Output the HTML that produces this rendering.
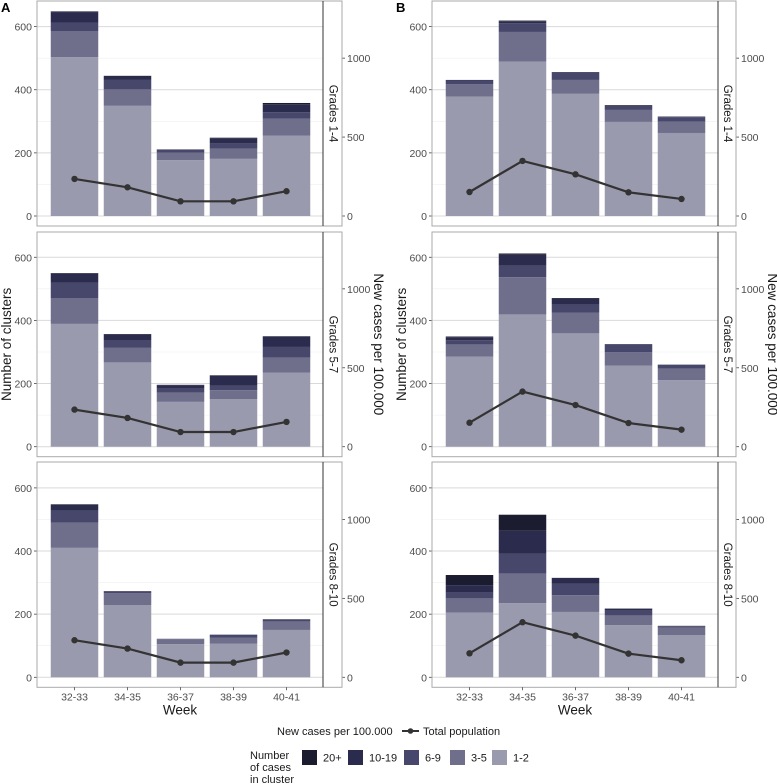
<!DOCTYPE html>
<html><head><meta charset="utf-8"><style>
body{margin:0;background:#fff;}
svg{display:block;font-family:"Liberation Sans",sans-serif;}
</style></head><body>
<svg id="chart" width="777" height="784" viewBox="0 0 777 784" xmlns="http://www.w3.org/2000/svg"></svg>
<script>
const weeks = ["32-33","34-35","36-37","38-39","40-41"];
const grades = ["Grades 1-4","Grades 5-7","Grades 8-10"];
const bandLabels = ["1-2","3-5","6-9","10-19","20+"];
const bandColors = ["#9a9aae","#6f6f8c","#47476b","#2b2b4d","#1c1c30"];
// counts per band [1-2,3-5,6-9,10-19,20+] per week
const panelA_g14 = [[503,83,27,33,2],[349,52,30,11,2],[177,24,8,1,1],[181,32,17,16,2],[255,53,21,25,4]];
const panelA_g57 = [[389,82,48,29,2],[267,46,25,18,1],[142,29,15,9,1],[151,28,15,30,2],[235,47,34,32,2]];
const panelA_g810 = [[410,80,38,18,2],[229,37,6,1,0],[105,16,1,0,0],[107,18,9,1,0],[150,27,5,2,0]];
const panelB_g14 = [[378,40,11,2,0],[489,94,28,6,2],[387,44,23,2,0],[298,38,10,4,1],[263,36,14,2,0]];
const panelB_g57 = [[285,39,13,10,2],[419,118,36,35,4],[359,66,25,19,2],[257,42,25,1,0],[211,36,12,1,0]];
const panelB_g810 = [[205,45,18,24,32],[235,94,62,73,51],[207,53,36,19,0],[165,31,15,6,1],[134,23,3,2,1]];
const lineA = [235,182,93,93,157];
const lineB = [152,349,264,150,108];
const leftTicks = [0,200,400,600];
const rightTicks = [0,500,1000];

const NS="http://www.w3.org/2000/svg";
const svg=document.getElementById('chart');
function el(tag,attrs,parent,text){const e=document.createElementNS(NS,tag);for(const k in attrs)e.setAttribute(k,attrs[k]);if(text!==undefined)e.textContent=text;(parent||svg).appendChild(e);return e;}

const cols=[{x0:37,x1:323,s1:342,data:[panelA_g14,panelA_g57,panelA_g810],line:lineA,tag:"A"},
            {x0:432,x1:718,s1:736,data:[panelB_g14,panelB_g57,panelB_g810],line:lineB,tag:"B"}];
const rows=[{top:1,zero:216},{top:232,zero:446.7},{top:462,zero:677.3}];
const K=0.3157; // px per cluster
const KR=K/2;   // px per new case
const step=53, firstOff=37.5, bw=47.5;

cols.forEach((c,ci)=>{
  const xc=i=>c.x0+firstOff+i*step;
  rows.forEach((r,ri)=>{
    const g=el('g',{},svg);
    
    
    const yL=v=>r.zero-v*K, yR=v=>r.zero-v*KR;
    const bottom=r.zero+10;
    // minor grid
    [100,300,500].forEach(v=>{const l=el('line',{x1:c.x0,x2:c.x1,y1:yL(v),y2:yL(v),stroke:'#efefef','stroke-width':0.6},g);});
    leftTicks.forEach(v=>{
      const l=el('line',{x1:c.x0,x2:c.x1,y1:yL(v),y2:yL(v),stroke:'#d9d9d9','stroke-width':1},g);
      
      el('line',{x1:c.x0-3,x2:c.x0,y1:yL(v),y2:yL(v),stroke:'#444','stroke-width':0.8},g);
      const t=el('text',{x:c.x0-5,y:yL(v)+4,'text-anchor':'end','font-size':10.5,fill:'#4d4d4d'},g,String(v));
      
    });
    rightTicks.forEach(v=>{
      el('line',{x1:c.s1,x2:c.s1+3,y1:yR(v),y2:yR(v),stroke:'#444','stroke-width':0.8},g);
      const t=el('text',{x:c.s1+5,y:yR(v)+4,'font-size':10.5,fill:'#4d4d4d'},g,String(v));
      
    });
    // bars
    c.data[ri].forEach((bands,i)=>{
      let cum=0;
      bands.forEach((n,b)=>{
        if(n<=0)return;
        const y0=yL(cum),y1=yL(cum+n);cum+=n;
        const rc=el('rect',{x:xc(i)-bw/2,y:y1,width:bw,height:y0-y1,fill:bandColors[b]},g);
        
        
      });
    });
    // line
    const pts=c.line.map((v,i)=>xc(i)+','+yR(v)).join(' ');
    const pl=el('polyline',{points:pts,fill:'none',stroke:'#333','stroke-width':2.2},g);
    
    c.line.forEach((v,i)=>{const p=el('circle',{cx:xc(i),cy:yR(v),r:3.2,fill:'#333'},g);});
    // borders
    el('rect',{x:c.x0,y:r.top,width:c.s1-c.x0,height:bottom-r.top,fill:'none',stroke:'#aaa','stroke-width':1},g);
    el('line',{x1:c.x1,x2:c.x1,y1:r.top,y2:bottom,stroke:'#333','stroke-width':1},g);
    const sx=(c.x1+c.s1)/2, sy=(r.top+bottom)/2;
    const st=el('text',{x:sx,y:sy,'text-anchor':'middle','dominant-baseline':'central','font-size':11.5,fill:'#1a1a1a',transform:`rotate(90 ${sx} ${sy})`},g,grades[ri]);
    
    if(ri===2){
      weeks.forEach((w,i)=>{
        el('line',{x1:xc(i),x2:xc(i),y1:bottom,y2:bottom+3,stroke:'#444','stroke-width':0.8},g);
        const t=el('text',{x:xc(i),y:bottom+13,'text-anchor':'middle','font-size':10.5,fill:'#4d4d4d'},g,w);
        
      });
      const wt=el('text',{x:(c.x0+c.x1)/2,y:bottom+27,'text-anchor':'middle','font-size':13.5,fill:'#1a1a1a'},g,'Week');
      
    }
    if(ri===1){
      const ly=(r.top+bottom)/2, lx=c.x0-26;
      const t=el('text',{x:lx,y:ly,'text-anchor':'middle','font-size':13.5,fill:'#1a1a1a',transform:`rotate(-90 ${lx} ${ly})`},g,'Number of clusters');
      
      const rx=c.s1+32;
      const t2=el('text',{x:rx,y:ly,'text-anchor':'middle','font-size':13.5,fill:'#1a1a1a',transform:`rotate(90 ${rx} ${ly})`},g,'New cases per 100.000');
      
    }
  });
  const tg=el('text',{x:c.tag==='A'?1:432-10-396+396-5,y:12,'font-size':13,'font-weight':'bold',fill:'#000'},svg,c.tag);
  if(c.tag==='B')tg.setAttribute('x',396);
  
});

// legend
const lg=el('g',{},svg);

el('text',{x:277,y:735,'font-size':11,fill:'#1a1a1a'},lg,'New cases per 100.000');
el('line',{x1:402,x2:419,y1:731,y2:731,stroke:'#333','stroke-width':2},lg);
el('circle',{cx:410.5,cy:731,r:2.8,fill:'#333'},lg);
el('text',{x:423,y:735,'font-size':11,fill:'#1a1a1a'},lg,'Total population');
['Number','of cases','in cluster'].forEach((s,i)=>el('text',{x:250,y:759+i*12,'font-size':11,fill:'#1a1a1a'},lg,s));
const keyX=[302,348,404,450,492];
const keyOrder=[4,3,2,1,0];
keyOrder.forEach((b,k)=>{
  const r=el('rect',{x:keyX[k],y:750,width:15,height:15,fill:bandColors[b]},lg);
  
  el('text',{x:keyX[k]+21,y:761.5,'font-size':11,fill:'#1a1a1a'},lg,bandLabels[b]);
});
</script>
</body></html>
